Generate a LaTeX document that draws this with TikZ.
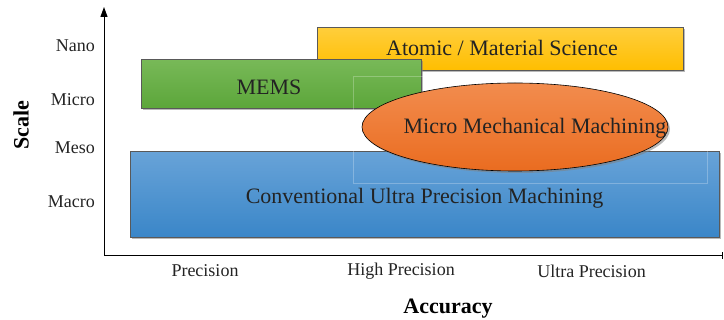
\documentclass[tikz,border=0pt]{standalone}
\usepackage{fontspec}
\setmainfont{Liberation Serif}
\usetikzlibrary{shapes.geometric,shadows,arrows.meta}
\definecolor{ytop}{RGB}{255,206,60}
\definecolor{ybot}{RGB}{255,190,0}
\definecolor{gtop}{RGB}{120,185,88}
\definecolor{gbot}{RGB}{92,166,58}
\definecolor{otop}{RGB}{242,140,78}
\definecolor{obot}{RGB}{234,108,32}
\definecolor{btop}{RGB}{104,163,216}
\definecolor{bbot}{RGB}{58,134,200}
\definecolor{txt}{RGB}{35,35,35}
\tikzset{
  region/.style={draw=black!65, line width=0.6pt, drop shadow={opacity=0.55, shadow xshift=2pt, shadow yshift=-2pt},
    anchor=north west, inner sep=0pt},
  boxtxt/.style={font=\fontsize{22}{24}\selectfont, text=txt, inner sep=0pt},
  axlab/.style={font=\fontsize{18}{20}\selectfont, text=txt, inner sep=0pt},
  axtitle/.style={font=\fontsize{22}{24}\selectfont\bfseries, text=black, inner sep=0pt},
}
\begin{document}
\begin{tikzpicture}[x=1pt,y=-1pt]
\useasboundingbox (0,0) rectangle (724,320);
% boxes
\node[region, top color=ytop, bottom color=ybot, minimum width=366pt, minimum height=43pt] (atomic) at (317,27) {};
\node[boxtxt] (atomictxt) at (502,48) {Atomic / Material Science};
\node[region, top color=gtop, bottom color=gbot, minimum width=280pt, minimum height=49pt] (mems) at (141,59) {};
\node[boxtxt] (memstxt) at (269,87) {MEMS};
\node[region, top color=btop, bottom color=bbot, minimum width=589pt, minimum height=86pt] (conv) at (130,151) {};
\node[boxtxt] (convtxt) at (424.5,198) {Conventional Ultra Precision Machining};
% faint frame
\draw[white, opacity=0.25, line width=0.5pt] (353,76) rectangle (707,183);
\node[ellipse, draw=black, line width=0.6pt, top color=otop, bottom color=obot, minimum width=306pt, minimum height=88pt, inner sep=0pt,
  drop shadow={opacity=0.55, shadow xshift=2pt, shadow yshift=-2pt}] (mmm) at (515,127) {};
\node[boxtxt] (mmmtxt) at (535,128) {Micro Mechanical Machining};
% axes
\coordinate (o) at (104,256);
\coordinate (ytip) at (104,7);
\coordinate (xend) at (723,256);
\draw[line width=1pt, -{Triangle[length=10pt,width=7pt]}] (o) -- (ytip);
\draw[line width=1pt, -{Bar[width=7pt]}] (o) -- (xend);
% y labels
\node[axlab, anchor=east] (nano) at (95,46) {Nano};
\node[axlab, anchor=east] (micro) at (95,100) {Micro};
\node[axlab, anchor=east] (meso) at (95,148) {Meso};
\node[axlab, anchor=east] (macro) at (95,202) {Macro};
\node[axtitle, rotate=90] (scale) at (21,125) {Scale};
% x labels
\node[axlab] (prec) at (205,271) {Precision};
\node[axlab] (hprec) at (401,271) {High Precision};
\node[axlab] (uprec) at (591.5,271) {Ultra Precision};
\node[axtitle] (acc) at (448,309) {Accuracy};
\end{tikzpicture}
\end{document}
